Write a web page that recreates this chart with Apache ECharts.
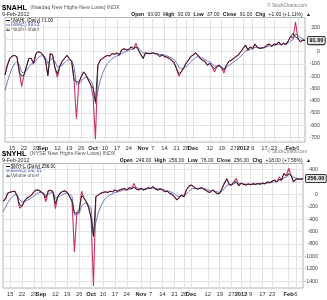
<!DOCTYPE html>
<html><head><meta charset="utf-8">
<script src="https://cdn.jsdelivr.net/npm/echarts@6/dist/echarts.min.js"></script>
<style>html,body{margin:0;padding:0;background:#fff}#c{width:327px;height:300px}</style>
</head><body><div id="c"></div>
<script>
const dates = ['2011-08-10','2011-08-11','2011-08-12','2011-08-15','2011-08-16','2011-08-17','2011-08-18','2011-08-19','2011-08-22','2011-08-23','2011-08-24','2011-08-25','2011-08-26','2011-08-29','2011-08-30','2011-08-31',
'2011-09-01','2011-09-02','2011-09-06','2011-09-07','2011-09-08','2011-09-09','2011-09-12','2011-09-13','2011-09-14','2011-09-15','2011-09-16','2011-09-19','2011-09-20','2011-09-21','2011-09-22','2011-09-23','2011-09-26','2011-09-27','2011-09-28','2011-09-29','2011-09-30',
'2011-10-03','2011-10-04','2011-10-05','2011-10-06','2011-10-07','2011-10-10','2011-10-11','2011-10-12','2011-10-13','2011-10-14','2011-10-17','2011-10-18','2011-10-19','2011-10-20','2011-10-21','2011-10-24','2011-10-25','2011-10-26','2011-10-27','2011-10-28','2011-10-31',
'2011-11-01','2011-11-02','2011-11-03','2011-11-04','2011-11-07','2011-11-08','2011-11-09','2011-11-10','2011-11-11','2011-11-14','2011-11-15','2011-11-16','2011-11-17','2011-11-18','2011-11-21','2011-11-22','2011-11-23','2011-11-25','2011-11-28','2011-11-29','2011-11-30',
'2011-12-01','2011-12-02','2011-12-05','2011-12-06','2011-12-07','2011-12-08','2011-12-09','2011-12-12','2011-12-13','2011-12-14','2011-12-15','2011-12-16','2011-12-19','2011-12-20','2011-12-21','2011-12-22','2011-12-23','2011-12-27','2011-12-28','2011-12-29','2011-12-30',
'2012-01-03','2012-01-04','2012-01-05','2012-01-06','2012-01-09','2012-01-10','2012-01-11','2012-01-12','2012-01-13','2012-01-17','2012-01-18','2012-01-19','2012-01-20','2012-01-23','2012-01-24','2012-01-25','2012-01-26','2012-01-27','2012-01-30','2012-01-31',
'2012-02-01','2012-02-02','2012-02-03','2012-02-06','2012-02-07','2012-02-08','2012-02-09'];

const nahlPink = [-190,-110,-55,-35,-30,-40,-165,-285,-190,-120,
-55,-55,-95,-15,0,-8,-27,-70,-195,-15,
-27,-135,-210,-120,-80,-55,-30,-55,-80,-230,
-550,-260,-205,-165,-190,-230,-270,-365,-715,-110,
-70,-55,-40,-30,-35,-15,-20,-10,-25,15,
25,15,20,40,25,70,15,-20,-55,-10,
-15,-15,-10,-15,-20,-40,-25,-40,-45,-55,
-70,-90,-135,-200,-165,-135,-95,-70,-40,-27,
-10,-27,-55,-70,-80,-110,-95,-120,-165,-120,
-110,-135,-175,-110,-80,-70,-55,-40,-27,0,
25,55,15,40,25,63,36,27,30,36,
54,63,45,63,60,80,54,70,60,90,
125,110,245,110,82,95,91];

const nahlBlack = [-190,-110,-55,-35,-30,-40,-165,-200,-190,-120,
-55,-55,-95,-15,0,-8,-27,-70,-195,-15,
-27,-135,-180,-120,-80,-55,-30,-55,-80,-230,
-245,-250,-205,-165,-190,-230,-270,-300,-410,-110,
-70,-55,-40,-30,-35,-15,-20,-10,-25,15,
25,15,20,40,25,40,15,-20,-55,-10,
-15,-15,-10,-15,-20,-40,-25,-40,-45,-55,
-70,-90,-135,-180,-165,-135,-95,-70,-40,-27,
-10,-27,-55,-70,-80,-110,-95,-120,-140,-120,
-110,-135,-150,-110,-80,-70,-55,-40,-27,0,
25,55,15,40,25,63,36,27,30,36,
54,63,45,63,60,80,54,70,60,90,
125,150,120,110,82,95,91];

const nahlEma5 = [-315,-247,-183,-134,-99,-79,-108,-167,-175,-157,
-123,-100,-98,-70,-47,-34,-32,-45,-95,-68,
-54,-81,-124,-123,-109,-91,-71,-66,-71,-124,
-266,-264,-244,-218,-209,-216,-234,-278,-424,-319,
-236,-176,-131,-97,-76,-56,-44,-33,-30,-15,
-2,4,9,19,21,37,30,13,-10,-10,
-12,-13,-12,-13,-15,-23,-24,-29,-34,-41,
-51,-64,-88,-125,-138,-137,-123,-105,-83,-64,
-46,-40,-45,-53,-62,-78,-84,-96,-119,-119,
-116,-122,-140,-130,-113,-99,-84,-69,-55,-37,
-16,8,10,20,22,36,36,33,32,33,
40,48,47,52,55,63,60,63,62,71,
89,100,146,134,115,106,100];

const nyhlPink = [-110,-80,20,35,45,50,-30,-225,-190,-110,
-60,-40,-10,40,70,65,40,10,-120,55,
65,40,-230,-40,20,45,55,30,-40,-120,
-930,-300,-290,50,-60,-120,-220,-380,-1480,-40,
-10,15,30,40,30,50,40,70,50,70,
85,95,70,105,95,175,85,70,95,70,
85,105,95,125,85,70,85,70,40,50,
15,0,-40,-90,-55,-10,-40,70,125,150,
125,95,85,105,95,70,40,30,70,40,
10,15,95,180,250,160,150,200,258,137,
180,160,150,165,155,170,160,175,165,180,
170,200,190,210,230,200,280,230,335,300,
420,300,200,242,250,240,256];

const nyhlBlack = [-110,-80,20,35,45,50,-30,-170,-190,-110,
-60,-40,-10,40,70,65,40,10,-60,55,
65,40,-150,-40,20,45,55,30,-40,-110,
-300,-300,-250,-20,-60,-120,-220,-380,-680,-40,
-10,15,30,40,30,50,40,70,50,70,
85,95,70,105,95,110,85,70,95,70,
85,105,95,125,85,70,85,70,40,50,
15,0,-40,-90,-55,-10,-40,70,125,150,
125,95,85,105,95,70,40,30,70,40,
10,15,95,180,250,160,150,200,200,137,
180,160,150,165,155,170,160,175,165,180,
170,200,190,210,230,200,240,230,335,300,
330,300,200,242,250,240,256];

const nyhlEma5 = [-280,-213,-135,-78,-37,-8,-15,-85,-120,-117,
-98,-79,-56,-24,7,26,31,24,-24,2,
23,29,-57,-51,-27,-3,16,21,1,-39,
-336,-324,-313,-192,-148,-139,-166,-237,-651,-447,
-301,-196,-121,-67,-35,-7,9,29,36,47,
60,72,71,82,86,116,106,94,94,86,
86,92,93,104,98,89,88,82,68,62,
46,31,7,-25,-35,-27,-31,3,44,79,
94,94,91,96,96,87,71,57,61,54,
39,31,52,95,147,151,151,167,190,172,
175,170,163,164,161,164,163,167,166,171,
171,180,183,192,205,203,229,229,264,276,
324,316,277,262,252,245,242];

const tickIdx  = [3,8,13,16,22,27,32,37,42,47,52,58,62,67,72,76,79,86,91,96,100,104,109,113,120,123];
const tickText = ['15','22','29','Sep','12','19','26','Oct','10','17','24','Nov','7','14','21','28','Dec','12','19','27','2012','9','17','23','Feb','6'];
const boldTicks = ['Sep','Oct','Nov','Dec','2012','Feb'];
const nahlYTicks = [200,100,0,-100,-200,-300,-400,-500,-600,-700];
const nyhlYTicks = [400,200,0,-200,-400,-600,-800,-1000,-1200,-1400];

const FONT = 'Liberation Sans';
const tickSet = new Set(tickIdx);
const GRID = '#e2e2e2';

function xAxisFor(gi){
  return {
    type:'category', gridIndex:gi, data:dates, boundaryGap:false,
    axisLine:{show:false}, axisTick:{show:false},
    splitLine:{show:true, interval:(i)=>tickSet.has(i), lineStyle:{color:GRID,width:1}},
    axisLabel:{
      interval:(i)=>tickSet.has(i), hideOverlap:false,
      margin:3, fontSize:5.8, color:'#333', fontFamily:FONT,
      formatter:(v,i)=>{const k=tickIdx.indexOf(i); if(k<0) return ''; const t=tickText[k]; return boldTicks.includes(t)?'{b|'+t+'}':t;},
      rich:{b:{fontWeight:'bold',fontSize:5.8,fontFamily:FONT,color:'#222'}}
    }
  };
}
function yAxisFor(gi,min,max,ticks){
  return {
    type:'value', gridIndex:gi, position:'right', min:min, max:max,
    axisLine:{show:false}, axisTick:{show:false, customValues:ticks},
    splitLine:{show:true, lineStyle:{color:GRID,width:1}},
    axisLabel:{customValues:ticks, formatter:(v)=>String(v), align:'right', margin:15, fontSize:5.3, color:'#444', fontFamily:FONT}
  };
}
function endLbl(){
  return {show:true, formatter:(p)=>Number(p.value).toFixed(2), distance:3,
    fontSize:5.5, fontWeight:'bold', fontFamily:FONT, color:'#000',
    backgroundColor:'#e4e4e4', borderColor:'#000', borderWidth:0.8, padding:[1,1.5,0.5,1.5], borderRadius:1};
}
function line(name, data, gi, color, width, extra){
  return Object.assign({type:'line', name:name, xAxisIndex:gi, yAxisIndex:gi, data:data,
    showSymbol:false, symbol:'none', lineStyle:{color:color,width:width}, itemStyle:{color:color},
    animation:false, silent:true}, extra||{});
}

const chart = echarts.init(document.getElementById('c'));
function txt(x,y,text,rich,align){
  return {type:'text', x:x, y:y, style:{text:text, rich:rich, align:align||'left', verticalAlign:'middle', textAlign:align||'left', textVerticalAlign:'middle'}};
}
const hdrRich = {
  a:{fontFamily:FONT,fontSize:7.5,fontWeight:'bold',fill:'#000',color:'#000'},
  b:{fontFamily:FONT,fontSize:5.3,fill:'#555',color:'#555'},
  d:{fontFamily:FONT,fontSize:5.3,fill:'#222',color:'#222'},
  l:{fontFamily:FONT,fontSize:5,fontWeight:'bold',fill:'#111',color:'#111'},
  v:{fontFamily:FONT,fontSize:5,fill:'#222',color:'#222'},
  c:{fontFamily:FONT,fontSize:4.6,fill:'#777',color:'#777'},
  k:{fontFamily:FONT,fontSize:4.6,fill:'#000',color:'#000'},
  e:{fontFamily:FONT,fontSize:4.6,fill:'#3344aa',color:'#3344aa'},
  g:{fontFamily:FONT,fontSize:4.6,fill:'#555',color:'#555'}
};
function header(y0, sym, desc, ohlc, legendMain, legendEma){
  return [
    txt(2, y0+8, '{a|'+sym+'} {b|'+desc+'}', hdrRich),
    txt(2, y0+14.3, '{d|9-Feb-2012}', hdrRich),
    txt(311, y0+14.3, ohlc, hdrRich, 'right'),
    txt(307, y0+5.5, '{c|© StockCharts.com}', hdrRich, 'right'),
    {type:'line', shape:{x1:6,y1:y0+20.5,x2:10,y2:y0+20.5}, style:{stroke:'#000',lineWidth:1}},
    txt(11, y0+20.5, '{k|'+legendMain+'}', hdrRich),
    {type:'line', shape:{x1:6,y1:y0+25,x2:10,y2:y0+25}, style:{stroke:'#5a6cb8',lineWidth:1}},
    txt(11, y0+25, '{e|'+legendEma+'}', hdrRich),
    {type:'polygon', shape:{points:[[6,y0+31],[7.5,y0+28],[9,y0+30],[10,y0+28.5],[10,y0+31]]}, style:{fill:'#777'}},
    txt(11, y0+29.5, '{g|Volume undef}', hdrRich)
  ];
}

chart.setOption({
  backgroundColor:'#fff',
  animation:false,
  grid:[
    {left:5, right:22, top:17.5, height:124.5, show:true, borderColor:'#a0a0a0', borderWidth:0.8, backgroundColor:'transparent'},
    {left:3, right:24, top:163.5, height:124.5, show:true, borderColor:'#a0a0a0', borderWidth:0.8, backgroundColor:'transparent'}
  ],
  xAxis:[xAxisFor(0), xAxisFor(1)],
  yAxis:[yAxisFor(0,-738,280,nahlYTicks), yAxisFor(1,-1511,497,nyhlYTicks)],
  series:[
    line('EMA(5)', nahlEma5, 0, '#5a6cb8', 0.9),
    line('pink', nahlPink, 0, '#c8336a', 1.1),
    line('$NAHL', nahlBlack, 0, '#1a1a1a', 0.9, {endLabel:endLbl(), z:5}),
    line('EMA(5)', nyhlEma5, 1, '#5a6cb8', 0.9),
    line('pink', nyhlPink, 1, '#c8336a', 1.1),
    line('$NYHL', nyhlBlack, 1, '#1a1a1a', 0.9, {endLabel:endLbl(), z:5})
  ],
  graphic: [].concat(
    header(0, '$NAHL', '(Nasdaq New Highs-New Lows) INDX',
      '{l|Open} {v|93.00} {l|High} {v|93.00} {l|Low} {v|37.00} {l|Close} {v|91.00} {l|Chg} {v|+1.00 (+1.11%)} {v|▲}',
      '$NAHL (Daily) 91.00', 'EMA(5) 99.93'),
    header(146, '$NYHL', '(NYSE New Highs-New Lows) INDX',
      '{l|Open} {v|249.00} {l|High} {v|256.00} {l|Low} {v|76.00} {l|Close} {v|256.00} {l|Chg} {v|+18.00 (+7.56%)} {v|▲}',
      '$NYHL (Daily) 256.00', 'EMA(5) 242.01')
  )
});
</script></body></html>
